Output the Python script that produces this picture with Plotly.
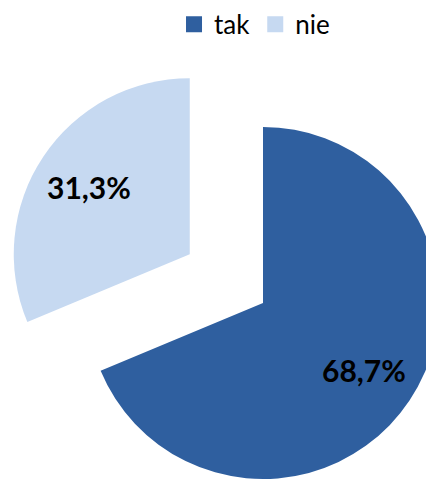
import math
import plotly.graph_objects as go

categories = ["tak", "nie"]
values = [68.7, 31.3]
colors = ["#2F5F9F", "#C6D9F1"]
transparent = "rgba(0,0,0,0)"

FONT = "Lato"
W, H = 434, 479
# pie geometry in figure pixels (page body adds an 8px offset)
CX, CY, R = 255.0, 295.0, 176.0
PULL = 0.5          # explode distance of the "nie" slice, fraction of radius
LABEL_R = 0.69      # radial position of the percentage labels

total = sum(values)
fracs = [v / total for v in values]
starts = [sum(fracs[:i]) for i in range(len(fracs))]
mids = [(s + f / 2) * 2 * math.pi for s, f in zip(starts, fracs)]   # clockwise from 12 o'clock


def direction(theta):
    return math.sin(theta), -math.cos(theta)


centers = [(CX, CY)]
dx, dy = direction(mids[1])
centers.append((CX + PULL * R * dx, CY + PULL * R * dy))


def domain(cx, cy):
    return dict(x=[(cx - R) / W, min((cx + R) / W, 1.0)],
                y=[max(1 - (cy + R) / H, 0.0), 1 - (cy - R) / H])


fig = go.Figure()
for i in range(len(values)):
    slice_colors = [colors[j] if j == i else transparent for j in range(len(values))]
    fig.add_trace(go.Pie(
        labels=categories, values=values, sort=False, direction="clockwise", rotation=0,
        marker=dict(colors=slice_colors, line=dict(width=0)),
        textinfo="none",
        domain=domain(*centers[i]),
        showlegend=False, hoverinfo="label+percent",
    ))
    lx, ly = direction(mids[i])
    px = centers[i][0] + LABEL_R * R * lx
    py = centers[i][1] + LABEL_R * R * ly
    fig.add_annotation(
        x=px / W, y=1 - py / H, xref="paper", yref="paper",
        xanchor="center", yanchor="middle",
        text=f"{fracs[i] * 100:.1f}%".replace(".", ","), showarrow=False,
        font=dict(family=FONT, size=30, color="black", weight="bold"),
    )

# legend entries
for name, col in zip(categories, colors):
    fig.add_trace(go.Scatter(
        x=[None], y=[None], mode="markers", name=name,
        marker=dict(symbol="square", size=16, color=col),
        hoverinfo="skip",
    ))

fig.update_layout(
    width=W, height=H,
    margin=dict(l=0, r=0, t=0, b=0, autoexpand=False),
    paper_bgcolor="white", plot_bgcolor="white",
    font=dict(family=FONT, color="black"),
    xaxis=dict(visible=False), yaxis=dict(visible=False),
    legend=dict(
        orientation="h", x=0.568, xanchor="center", y=1.015, yanchor="top",
        font=dict(family=FONT, size=26, color="black"),
        bgcolor="rgba(0,0,0,0)", itemwidth=30,
    ),
)

fig.write_html("out.html")
